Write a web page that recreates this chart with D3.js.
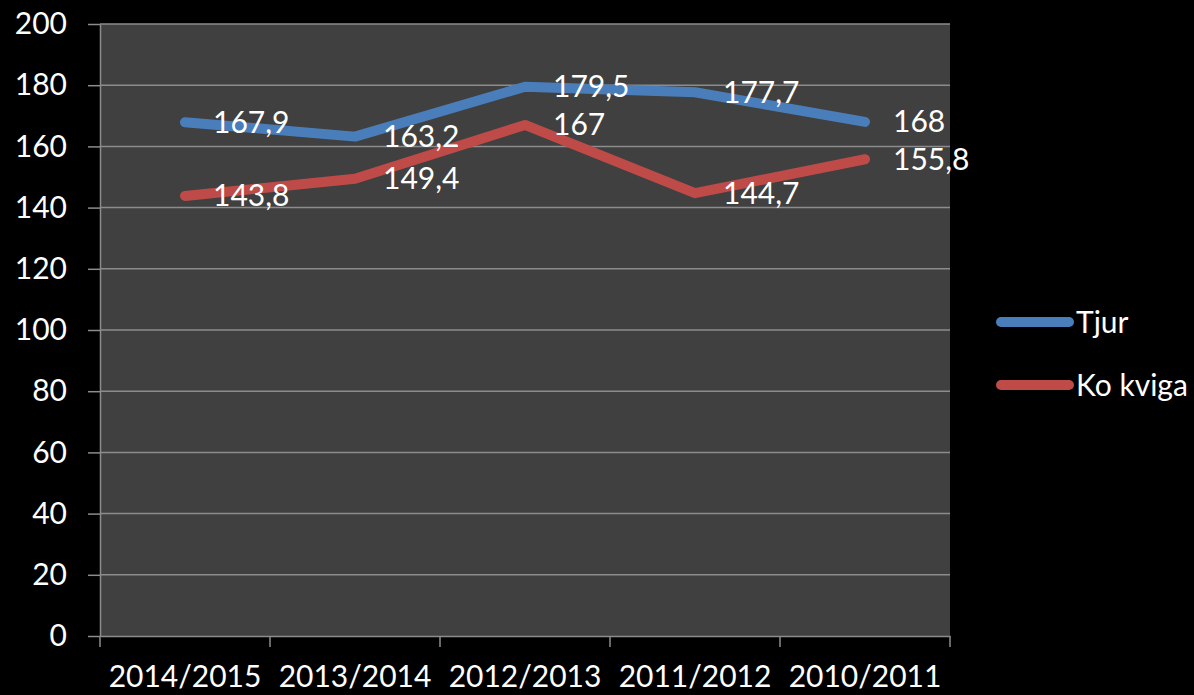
<html>
<head>
<meta charset="UTF-8">
<title>Tjur / Ko kviga</title>
<style>
  body { margin: 0; background-color: #000; }
  svg { display: block; background-color: #000; }
  .axis path, .axis line { stroke: #8c8c8c; }
  .axis text { fill: #fff; font-family: Lato, sans-serif; font-size: 30px; }
  .grid line { stroke: #8c8c8c; stroke-width: 1.5px; }
  .label { fill: #fff; font-family: Lato, sans-serif; font-size: 30px; }
  .legend text { fill: #fff; font-family: Lato, sans-serif; font-size: 30px; }
</style>
<script src="https://cdn.jsdelivr.net/npm/d3@7"></script>
</head>
<body>
<div id="chart"></div>
<script>
  var seasons = ["2014/2015", "2013/2014", "2012/2013", "2011/2012", "2010/2011"];
  var tjur = [167.9, 163.2, 179.5, 177.7, 168];
  var koKviga = [143.8, 149.4, 167, 144.7, 155.8];
  var seriesNames = ["Tjur", "Ko kviga"];
  var seriesColors = ["#4a7ebb", "#be4b48"];
  var yTicks = [0, 20, 40, 60, 80, 100, 120, 140, 160, 180, 200];

  var width = 1194, height = 695;
  var plot = { left: 100, right: 950, top: 24, bottom: 636 };

  var svg = d3.select("#chart").append("svg")
    .attr("width", width).attr("height", height);

  var xScale = d3.scaleBand().domain(seasons).range([plot.left, plot.right]);
  var yScale = d3.scaleLinear().domain([0, 200]).range([plot.bottom, plot.top]);

  // plot background
  svg.append("rect")
    .attr("x", plot.left).attr("y", plot.top)
    .attr("width", plot.right - plot.left).attr("height", plot.bottom - plot.top)
    .attr("fill", "#404040");

  // gridlines
  svg.append("g").attr("class", "grid")
    .selectAll("line").data(yTicks.slice(1)).enter().append("line")
    .attr("x1", plot.left).attr("x2", plot.right)
    .attr("y1", function(d) { return yScale(d); })
    .attr("y2", function(d) { return yScale(d); });

  // axes
  var yAxis = d3.axisLeft(yScale).tickValues(yTicks).tickSize(12).tickPadding(21).tickSizeOuter(0);
  svg.append("g").attr("class", "axis")
    .attr("transform", "translate(" + plot.left + ",0)")
    .call(yAxis)
    .call(function(g) { g.selectAll("line, path").attr("stroke-width", 1.5); });

  var xAxis = d3.axisBottom(xScale).tickSize(0).tickPadding(30);
  var xG = svg.append("g").attr("class", "axis")
    .attr("transform", "translate(0," + plot.bottom + ")")
    .call(xAxis);
  xG.select(".domain").attr("stroke-width", 1.5);
  // category boundary ticks
  var bounds = seasons.map(function(s) { return xScale(s); }).concat([plot.right]);
  xG.selectAll(".bound").data(bounds).enter().append("line")
    .attr("class", "bound")
    .attr("x1", function(d) { return d; }).attr("x2", function(d) { return d; })
    .attr("y1", 0).attr("y2", 11)
    .attr("stroke", "#8c8c8c").attr("stroke-width", 1.5);

  var line = d3.line()
    .x(function(d, i) { return xScale(seasons[i]) + xScale.bandwidth() / 2; })
    .y(function(d) { return yScale(d); });

  var allSeries = [tjur, koKviga];

  allSeries.forEach(function(vals, k) {
    svg.append("path")
      .datum(vals)
      .attr("d", line)
      .attr("fill", "none")
      .attr("stroke", seriesColors[k])
      .attr("stroke-width", 10)
      .attr("stroke-linecap", "round")
      .attr("stroke-linejoin", "round");
  });

  allSeries.forEach(function(vals, k) {
    svg.selectAll(".label" + k).data(vals).enter().append("text")
      .attr("class", "label")
      .attr("x", function(d, i) { return xScale(seasons[i]) + xScale.bandwidth() / 2 + 28; })
      .attr("y", function(d) { return yScale(d); })
      .attr("dy", "0.35em")
      .text(function(d) { return String(d).replace(".", ","); });
  });

  // legend
  var legend = svg.append("g").attr("class", "legend");
  seriesNames.forEach(function(name, k) {
    var ly = 322 + k * 63;
    legend.append("line")
      .attr("x1", 1001).attr("x2", 1069)
      .attr("y1", ly).attr("y2", ly)
      .attr("stroke", seriesColors[k]).attr("stroke-width", 10)
      .attr("stroke-linecap", "round");
    legend.append("text")
      .attr("x", 1076).attr("y", ly).attr("dy", "0.35em")
      .text(name);
  });
</script>
</body>
</html>
